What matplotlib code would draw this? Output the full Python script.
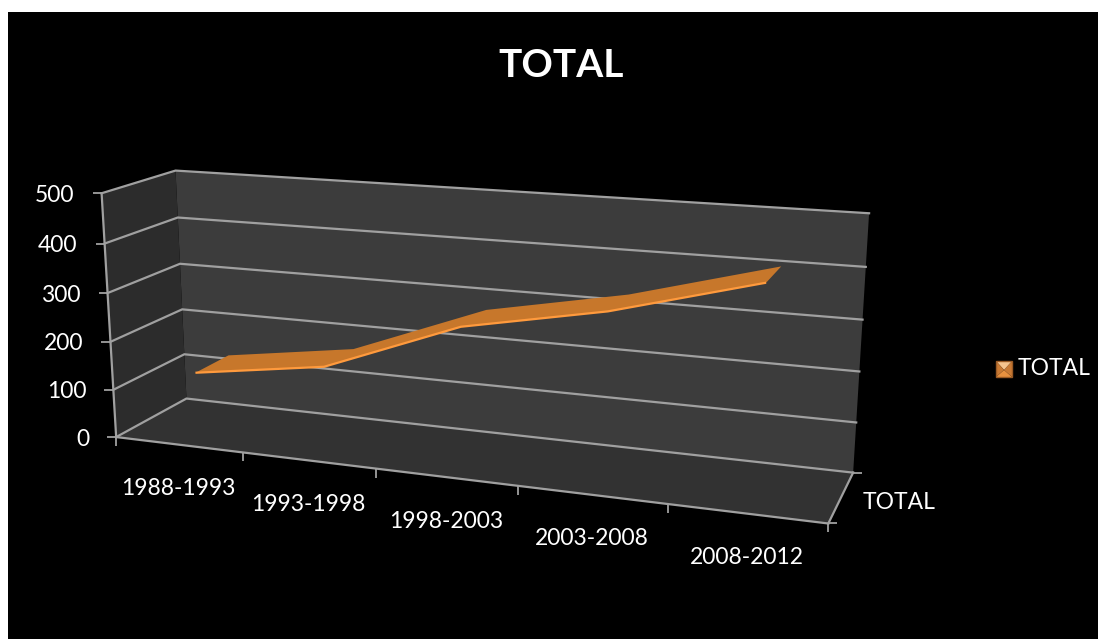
import numpy as np
import matplotlib
matplotlib.use("Agg")
import matplotlib.pyplot as plt
from matplotlib.legend_handler import HandlerBase
from matplotlib.patches import Polygon, Patch

plt.rcParams['font.family'] = ['Lato', 'DejaVu Sans']

# ---- chart data ----
categories = ['1988-1993', '1993-1998', '1998-2003', '2003-2008', '2008-2012']
total = [128, 168, 274, 328, 404]
value_ticks = [0, 100, 200, 300, 400, 500]
series_name = 'TOTAL'
title = 'TOTAL'

W, H = 1098, 639
fig = plt.figure(figsize=(W / 100, H / 100), dpi=100, facecolor='white')
ax = fig.add_axes([8 / W, 0, (W - 8) / W, (H - 12) / H])
ax.set_xlim(8, W)
ax.set_ylim(H, 12)
ax.set_facecolor('black')
ax.set_xticks([])
ax.set_yticks([])
for s in ax.spines.values():
    s.set_visible(False)

# ---- 3D camera, calibrated on the chart box: (category, value, depth) -> pixel ----
calib = [
    (0, 0, 0, 116.7, 436.7), (0, 500, 0, 102, 193), (0, 0, 1, 186.7, 398), (0, 500, 1, 175, 171),
    (5, 500, 1, 869.3, 214), (5, 0, 1, 853.3, 472.3), (5, 0, 0, 828.3, 522.3),
    (1, 0, 0, 242.3, 453.3), (2, 0, 0, 376, 470), (3, 0, 0, 518, 487), (4, 0, 0, 668.3, 504),
    (0, 250, 1, 181, 287), (5, 250, 1, 861, 345), (0, 250, 0, 109, 316),
]
rows = []
for u, v, w, px, py in calib:
    X = [u / 5, v / 500, w, 1]
    x, y = px / 1000, py / 1000
    rows.append(X + [0, 0, 0, 0] + [-x * c for c in X])
    rows.append([0, 0, 0, 0] + X + [-y * c for c in X])
P = np.linalg.svd(np.array(rows))[2][-1].reshape(3, 4)


def project(u, v, w):
    u, v, w = np.broadcast_arrays(np.asarray(u, float), np.asarray(v, float), np.asarray(w, float))
    X = np.stack([u / 5, v / 500, w, np.ones_like(u)])
    q = P @ X.reshape(4, -1)
    return (q[0] / q[2] * 1000).reshape(u.shape), (q[1] / q[2] * 1000).reshape(u.shape)


vmax = max(value_ticks)
ncat = len(categories)


def face(us, vs, ws, color):
    x, y = project(us, vs, ws)
    ax.fill(x, y, color=color, lw=0, zorder=1)


face([0, 5, 5, 0], [0, 0, vmax, vmax], 1, '#3c3c3c')            # back wall
face(0, [0, 0, vmax, vmax], [0, 1, 1, 0], '#2c2c2c')            # side wall
face([0, 5, 5, 0], 0, [0, 0, 1, 1], '#323232')                  # floor

GRID = '#a0a0a0'
for v in value_ticks:
    x, y = project([0, 0, 5], v, [0, 1, 1])
    ax.plot(x, y, color=GRID, lw=1.6, zorder=2, solid_joinstyle='miter')

# axes edges
for us, vs, ws in [([0, 0], [0, vmax], 0), ([0, 5], 0, 0), ([5, 5], 0, [0, 1])]:
    x, y = project(us, vs, ws)
    ax.plot(x, y, color=GRID, lw=1.6, zorder=2)

# tick marks
x, y = project(0, value_ticks, 0)
ax.plot(x, y, ls='', marker=0, ms=6.5, mew=1.3, color=GRID, zorder=2)
x, y = project(np.arange(ncat + 1), 0, 0)
ax.plot(x, y, ls='', marker=3, ms=6.5, mew=1.3, color=GRID, zorder=2)
x, y = project(5, 0, [0, 1])
ax.plot(x, y, ls='', marker=1, ms=6.5, mew=1.3, color=GRID, zorder=2)

# ---- ribbon series ----
cat_pos = np.arange(ncat) + 0.5
W_FRONT, W_BACK = 0.28, 0.77
fx, fy = project(cat_pos, total, W_FRONT)
bx, by = project(cat_pos, total, W_BACK)
ax.fill(np.r_[fx, bx[::-1]], np.r_[fy, by[::-1]], color='#C7772B', lw=0, zorder=3)
ax.plot(fx, fy, color='#FF9A3D', lw=1.6, zorder=4, solid_capstyle='butt')

# ---- text ----
TXT = 16.5
for v in value_ticks:
    ax.annotate(str(v), project(0, v, 0), xytext=(-27, -2), textcoords='offset pixels',
                ha='right', va='center', color='white', fontsize=TXT, zorder=5)
for p, c in zip(cat_pos, categories):
    ax.annotate(c, project(p, 0, 0), xytext=(0, -44), textcoords='offset pixels',
                ha='center', va='center', color='white', fontsize=TXT, zorder=5)
ax.annotate(series_name, project(5, 0, 0.5), xytext=(58, -5), textcoords='offset pixels',
            ha='center', va='center', color='white', fontsize=TXT, zorder=5)
ax.text(561, 66, title, ha='center', va='center', color='white', fontsize=28, fontweight='bold', zorder=5)


# ---- legend with the bevelled key ----
class BevelKey(HandlerBase):
    def create_artists(self, legend, orig, xd, yd, width, height, fontsize, trans):
        x0, y0 = -xd, -yd - 0.1 * height
        s = width
        o = [(x0, y0), (x0 + s, y0), (x0 + s, y0 + s), (x0, y0 + s)]
        c = (x0 + s / 2, y0 + s * 0.45)
        cols = ['#E8913F', '#C97A34', '#F6C48E', '#C97A34']
        arts = [Polygon([o[k], o[(k + 1) % 4], c], closed=True, fc=cols[k], ec='none',
                        transform=trans) for k in range(4)]
        arts.append(Polygon(o, closed=True, fc='none', ec='#9A5A24', lw=1, transform=trans))
        return arts


ax.legend([Patch(color='#EE9A4D')], [series_name], handler_map={Patch: BevelKey()},
          loc='center left', bbox_to_anchor=(996, 369), bbox_transform=ax.transData,
          frameon=False, labelcolor='white', fontsize=TXT, handlelength=0.7, handleheight=0.7,
          handletextpad=0.25, borderpad=0, borderaxespad=0)

fig.savefig('out.png', dpi=100, facecolor='white')
